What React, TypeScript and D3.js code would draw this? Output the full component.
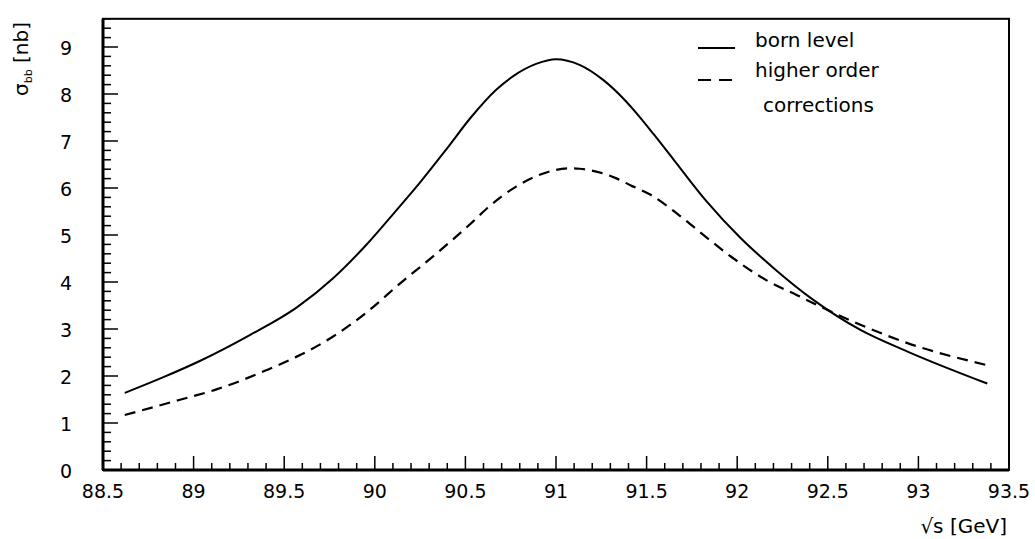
import React from "react";
import * as d3 from "d3";

const bornX = [88.62, 88.83, 89.04, 89.31, 89.57, 89.77, 89.96, 90.10, 90.25, 90.40, 90.53, 90.67, 90.76, 90.89, 91.00, 91.13, 91.26, 91.37, 91.46, 91.54, 91.65, 91.83, 92.02, 92.20, 92.42, 92.68, 92.94, 93.38];
const bornY = [1.64, 1.97, 2.33, 2.87, 3.46, 4.08, 4.82, 5.44, 6.12, 6.85, 7.50, 8.09, 8.37, 8.64, 8.74, 8.62, 8.30, 7.91, 7.52, 7.14, 6.60, 5.72, 4.93, 4.30, 3.62, 2.98, 2.52, 1.84];
const hoX = [88.62, 88.92, 89.13, 89.40, 89.59, 89.77, 89.96, 90.14, 90.32, 90.54, 90.62, 90.78, 90.93, 91.08, 91.13, 91.26, 91.33, 91.41, 91.52, 91.68, 91.83, 91.98, 92.16, 92.33, 92.42, 92.68, 92.94, 93.38];
const hoY = [1.17, 1.49, 1.72, 2.12, 2.45, 2.84, 3.37, 3.97, 4.54, 5.28, 5.57, 6.03, 6.31, 6.42, 6.41, 6.31, 6.21, 6.06, 5.86, 5.42, 4.95, 4.50, 4.04, 3.72, 3.55, 3.09, 2.70, 2.23];

const xTickLabels = ["88.5", "89", "89.5", "90", "90.5", "91", "91.5", "92", "92.5", "93", "93.5"];
const yTickLabels = ["0", "1", "2", "3", "4", "5", "6", "7", "8", "9"];
const legendLabels = ["born level", "higher order", "corrections"];

const W = 1035, H = 539;
const L = 103, R = 1009, T = 18.8, B = 470;

export default function App() {
  const x = d3.scaleLinear().domain([88.5, 93.5]).range([L, R]);
  const y = d3.scaleLinear().domain([0, 9.6]).range([B, T]);
  const line = d3.line<[number, number]>().x(d => x(d[0])).y(d => y(d[1])).curve(d3.curveMonotoneX);
  const born = line(bornX.map((v, i) => [v, bornY[i]]) as [number, number][]) || "";
  const ho = line(hoX.map((v, i) => [v, hoY[i]]) as [number, number][]) || "";

  const xMinor = d3.range(0, 51).map(i => 88.5 + i * 0.1);
  const yMinor = d3.range(0, 49).map(i => i * 0.2);
  const font = "'DejaVu Sans', sans-serif";

  return (
    <svg width={W} height={H} style={{ position: "absolute", left: 0, top: 0, background: "#fff" }} fontFamily={font}>
      <rect x={0} y={0} width={W} height={H} fill="#fff" />
      {xMinor.map((v, i) => (
        <line key={"xt" + i} x1={x(v)} x2={x(v)} y1={B} y2={B - (i % 5 === 0 ? 14 : 7)} stroke="#000" strokeWidth={1.5} />
      ))}
      {yMinor.map((v, i) => (
        <line key={"yt" + i} x1={L} x2={L + (i % 5 === 0 ? 15 : 8)} y1={y(v)} y2={y(v)} stroke="#000" strokeWidth={1.5} />
      ))}
      <rect x={L} y={T} width={R - L} height={B - T} fill="none" stroke="#000" strokeWidth={2} />
      <line x1={L} x2={L} y1={T} y2={B} stroke="#000" strokeWidth={3} />
      <line x1={L} x2={R} y1={B} y2={B} stroke="#000" strokeWidth={3} />
      {xTickLabels.map(s => (
        <text key={"xl" + s} x={x(+s)} y={498} fontSize={19} textAnchor="middle">{s}</text>
      ))}
      {yTickLabels.map(s => (
        <text key={"yl" + s} x={66} y={y(+s) + 8} fontSize={19} textAnchor="middle">{s}</text>
      ))}
      <path d={born} fill="none" stroke="#000" strokeWidth={2} />
      <path d={ho} fill="none" stroke="#000" strokeWidth={2.2} strokeDasharray="11,7" />
      <line x1={698} x2={735} y1={48} y2={48} stroke="#000" strokeWidth={2} />
      <text x={755} y={47} fontSize={20}>{legendLabels[0]}</text>
      <line x1={698} x2={735} y1={80} y2={80} stroke="#000" strokeWidth={2.2} strokeDasharray="13,8" />
      <text x={755} y={77} fontSize={20}>{legendLabels[1]}</text>
      <text x={763} y={112} fontSize={20}>{legendLabels[2]}</text>
      <text transform="translate(28,96) rotate(-90)" fontSize={20}>
        <tspan>σ</tspan>
        <tspan fontSize={11} dy={4}>bb</tspan>
        <tspan dy={-4}> [nb]</tspan>
      </text>
      <text x={1007} y={533} fontSize={20} textAnchor="end">√s [GeV]</text>
    </svg>
  );
}
